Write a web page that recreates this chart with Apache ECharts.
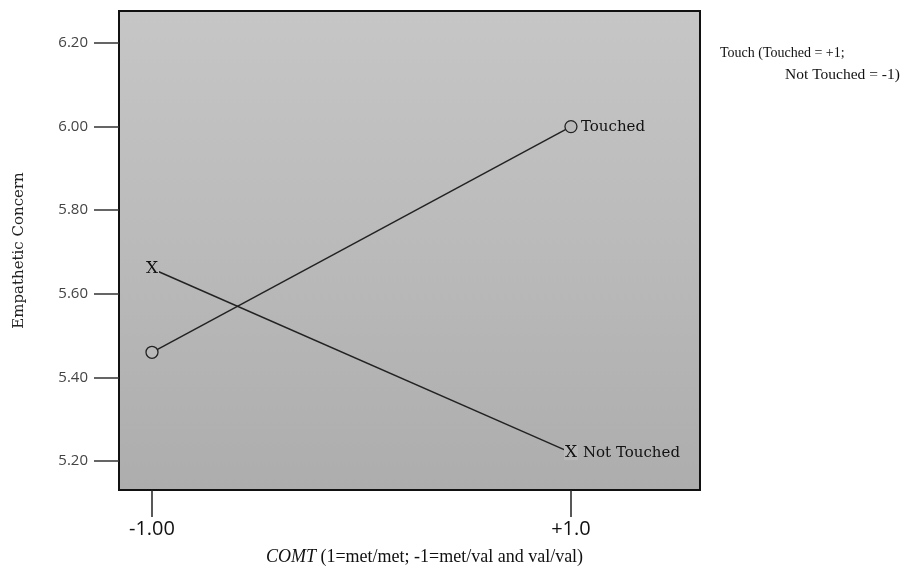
<!DOCTYPE html>
<html>
<head>
<meta charset="utf-8">
<script src="https://cdn.jsdelivr.net/npm/echarts@6/dist/echarts.min.js"></script>
<style>
  html, body { margin: 0; padding: 0; background: #fff; }
  #chart { width: 917px; height: 571px; }
</style>
</head>
<body>
<div id="chart"></div>
<script>
// COMT group on the x axis, mean empathetic concern on the y axis
const comt = [-1, 1];
const xTickLabels = ['-1.00', '+1.0'];
const yTicks = [5.2, 5.4, 5.6, 5.8, 6.0, 6.2];
const touched = [5.46, 6.00];
const notTouched = [5.66, 5.22];

const bgGray = '#b9b9b9';

function pairs (values) {
    return comt.map(function (x, i) { return [x, values[i]]; });
}

const chart = echarts.init(document.getElementById('chart'));
const options = {
    animation: false,
    grid: {
        left: 119,
        top: 11,
        width: 581,
        height: 479,
        outerBoundsMode: 'none',
        show: true,
        borderColor: '#111',
        borderWidth: 2,
        backgroundColor: {
            type: 'linear', x: 0, y: 0, x2: 0, y2: 1,
            colorStops: [
                { offset: 0, color: '#c6c6c6' },
                { offset: 0.5, color: '#bababa' },
                { offset: 1, color: '#adadad' }
            ]
        }
    },
    xAxis: {
        type: 'value',
        min: -1.1575,
        max: 1.616,
        splitLine: { show: false },
        axisLine: { show: false, onZero: false },
        axisTick: {
            show: true,
            customValues: comt,
            length: 27,
            lineStyle: { color: '#222', width: 1.5 }
        },
        axisLabel: {
            customValues: comt,
            margin: 29,
            fontFamily: 'Open Sans',
            fontSize: 20,
            color: '#111',
            formatter: function (v) { return xTickLabels[comt.indexOf(v)]; }
        },
        name: '{i|COMT} (1=met/met; -1=met/val and val/val)',
        nameLocation: 'middle',
        nameGap: 58,
        nameTextStyle: {
            fontFamily: 'Liberation Serif',
            fontSize: 18,
            color: '#111',
            padding: [0, 0, 0, 30],
            rich: {
                i: { fontFamily: 'Liberation Serif', fontStyle: 'italic', fontSize: 18, color: '#111' }
            }
        }
    },
    yAxis: {
        type: 'value',
        min: 5.1306,
        max: 6.2766,
        splitLine: { show: false },
        axisLine: { show: false, onZero: false },
        axisTick: {
            show: true,
            customValues: yTicks,
            length: 25,
            lineStyle: { color: '#333', width: 1.5 }
        },
        axisLabel: {
            customValues: yTicks,
            margin: 31,
            fontFamily: 'Open Sans',
            fontSize: 15,
            color: '#444',
            formatter: function (v) { return v.toFixed(2); }
        },
        name: 'Empathetic Concern',
        nameLocation: 'middle',
        nameGap: 92,
        nameTextStyle: {
            fontFamily: 'DejaVu Serif',
            fontSize: 15,
            color: '#222'
        }
    },
    series: [
        {
            name: 'Touched',
            type: 'line',
            data: pairs(touched),
            symbol: 'circle',
            symbolSize: 12,
            itemStyle: { color: bgGray, borderColor: '#222', borderWidth: 1.3 },
            lineStyle: { color: '#222', width: 1.5 },
            endLabel: {
                show: true,
                distance: 10,
                formatter: '{a}',
                fontFamily: 'DejaVu Serif',
                fontSize: 15,
                color: '#111'
            }
        },
        {
            name: 'Not Touched',
            type: 'line',
            data: pairs(notTouched),
            symbol: 'rect',
            symbolSize: [14, 15],
            itemStyle: { color: bgGray, borderWidth: 0 },
            lineStyle: { color: '#222', width: 1.5 },
            label: {
                show: true,
                position: 'inside',
                formatter: 'X',
                fontFamily: 'DejaVu Serif',
                fontSize: 17,
                color: '#111'
            },
            endLabel: {
                show: true,
                distance: 12,
                formatter: '{a}',
                fontFamily: 'DejaVu Serif',
                fontSize: 15,
                color: '#111'
            }
        }
    ],
    graphic: [
        {
            type: 'text',
            left: 720,
            top: 46,
            style: { text: 'Touch (Touched = +1;', font: '14px "Liberation Serif"', fill: '#111' }
        },
        {
            type: 'text',
            left: 785,
            top: 67,
            style: { text: 'Not Touched = -1)', font: '15.5px "Liberation Serif"', fill: '#111' }
        }
    ]
};
chart.setOption(options);
</script>
</body>
</html>
